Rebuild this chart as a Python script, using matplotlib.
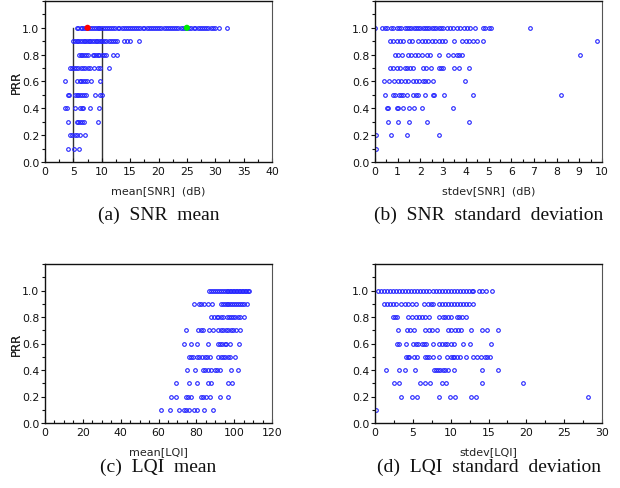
import matplotlib
matplotlib.use("Agg")
import matplotlib.pyplot as plt
from matplotlib.ticker import FixedLocator, MultipleLocator

# ---------------- data ----------------
prr_levels = [1.0, 0.9, 0.8, 0.7, 0.6, 0.5, 0.4, 0.3, 0.2, 0.1]

snr_mean = {
    1.0: [5.6, 5.9, 6.3, 6.6, 6.9, 7.2, 7.6, 7.9, 8.2, 8.6, 8.9, 9.3, 9.6, 9.9, 10.3, 10.6,
          11.0, 11.3, 11.7, 12.0, 12.4, 12.8, 13.1, 13.5, 13.9, 14.2, 14.6, 15.0, 15.3, 15.7,
          16.1, 16.4, 16.8, 17.2, 17.5, 17.9, 18.3, 18.7, 19.0, 19.4, 19.8, 20.1, 20.5, 20.9,
          21.3, 21.6, 22.0, 22.4, 22.8, 23.1, 23.5, 23.9, 24.3, 24.6, 25.0, 25.4, 25.8, 26.2,
          26.5, 26.9, 27.3, 27.7, 28.0, 28.4, 28.8, 29.2, 29.6, 30.0, 30.6, 32.0],
    0.9: [4.9, 5.3, 5.6, 5.9, 6.2, 6.5, 6.8, 7.1, 7.4, 7.7, 8.0, 8.3, 8.6, 8.9, 9.2, 9.5, 9.8,
          10.1, 10.4, 10.8, 11.2, 11.6, 11.9, 12.3, 12.6, 14.0, 14.5, 15.0, 16.5],
    0.8: [6.0, 6.3, 6.6, 6.9, 7.3, 7.6, 8.4, 8.7, 9.0, 9.3, 9.6, 10.0, 10.4, 10.8, 12.0, 12.7],
    0.7: [4.4, 4.8, 5.1, 5.5, 5.9, 6.3, 6.7, 7.1, 7.5, 7.9, 8.7, 9.3, 9.7, 11.3],
    0.6: [3.5, 5.7, 6.1, 6.4, 6.7, 7.0, 7.4, 8.1, 9.7],
    0.5: [4.0, 4.3, 5.3, 5.6, 5.9, 6.2, 6.6, 6.9, 7.2, 8.8, 9.7, 10.1],
    0.4: [3.5, 3.8, 5.3, 6.2, 6.5, 6.7, 8.0, 9.6],
    0.3: [4.1, 5.6, 5.9, 6.2, 6.6, 6.9, 9.4],
    0.2: [4.4, 4.7, 5.3, 5.6, 6.1, 7.0],
    0.1: [4.1, 5.1, 6.0],
}

snr_std = {
    1.0: [0.0, 0.3, 0.45, 0.55, 0.7, 0.8, 0.95, 1.05, 1.15, 1.3, 1.4, 1.5, 1.6, 1.7, 1.8, 1.9,
          2.0, 2.1, 2.2, 2.3, 2.4, 2.5, 2.6, 2.7, 2.8, 2.9, 3.0, 3.15, 3.3, 3.45, 3.6, 3.75,
          3.9, 4.05, 4.2, 4.4, 4.75, 4.85, 5.0, 5.1, 6.85],
    0.9: [0.65, 0.8, 0.95, 1.1, 1.25, 1.5, 1.62, 1.9, 2.05, 2.2, 2.35, 2.5, 2.65, 2.8, 2.95,
          3.1, 3.5, 3.85, 4.0, 4.15, 4.3, 4.48, 4.74, 9.8],
    0.8: [0.9, 1.0, 1.2, 1.47, 1.6, 1.75, 1.9, 2.05, 2.28, 2.42, 2.83, 3.2, 3.45, 3.6, 3.7,
          3.82, 9.05],
    0.7: [0.66, 0.8, 0.95, 1.1, 1.3, 1.4, 1.55, 1.69, 2.1, 2.25, 2.45, 2.8, 2.9, 3.0, 3.48,
          3.7, 4.15],
    0.6: [0.4, 0.63, 0.85, 1.0, 1.15, 1.3, 1.45, 1.66, 1.8, 1.95, 2.1, 2.2, 2.35, 2.55, 3.96],
    0.5: [0.44, 0.81, 0.9, 1.05, 1.15, 1.25, 1.4, 1.66, 1.81, 1.91, 2.2, 2.54, 2.6, 3.04,
          4.3, 8.2],
    0.4: [0.51, 0.59, 0.96, 1.03, 1.25, 1.51, 1.72, 2.06, 3.45],
    0.3: [0.59, 1.0, 1.51, 2.31, 4.16],
    0.2: [0.04, 0.7, 1.4, 2.82],
    0.1: [0.03],
}

lqi_mean = {
    1.0: [86.9, 88.0, 89.0, 90.0, 91.0, 92.0, 93.0, 94.0, 95.0, 96.0, 96.8, 97.6, 98.4, 99.2,
          100.0, 100.8, 101.6, 102.4, 103.2, 104.0, 104.8, 105.6, 106.4, 107.2, 108.0],
    0.9: [78.8, 81.4, 82.4, 84.0, 86.0, 88.5, 92.9, 94.0, 95.0, 96.0, 97.0, 98.0, 99.0, 100.0,
          101.0, 102.0, 103.0, 104.0, 105.0, 106.7],
    0.8: [87.6, 89.2, 90.8, 91.7, 93.0, 94.0, 96.1, 97.3, 98.5, 99.5, 100.6, 101.8, 103.0, 105.0],
    0.7: [74.3, 81.1, 82.4, 83.7, 86.9, 89.0, 91.7, 93.0, 94.2, 95.5, 97.0, 98.3, 99.6, 101.0,
          103.2],
    0.6: [73.6, 77.0, 80.2, 86.4, 91.2, 92.5, 93.8, 95.0, 95.8, 97.9, 102.3],
    0.5: [76.3, 77.3, 78.4, 80.2, 81.5, 82.8, 84.6, 85.9, 87.3, 91.7, 92.9, 94.1, 95.3, 96.6,
          97.9, 100.5],
    0.4: [75.2, 79.3, 83.7, 84.8, 86.0, 87.6, 89.9, 90.8, 92.6, 98.4, 101.8],
    0.3: [69.0, 76.3, 80.5, 86.4, 87.6, 96.5, 98.8],
    0.2: [66.5, 69.0, 74.3, 75.6, 77.0, 82.3, 83.6, 85.0, 87.3, 92.6, 96.5],
    0.1: [61.1, 66.0, 71.0, 73.6, 74.8, 76.3, 78.8, 80.2, 84.1, 89.0],
}

lqi_std = {
    1.0: [0.44, 0.8, 1.2, 1.6, 2.0, 2.4, 2.8, 3.2, 3.6, 4.0, 4.4, 4.8, 5.2, 5.6, 6.0, 6.4, 6.8,
          7.2, 7.6, 8.0, 8.4, 8.8, 9.2, 9.6, 10.0, 10.4, 10.8, 11.2, 11.6, 12.0, 12.4, 12.8,
          13.0, 13.7, 14.1, 14.7, 15.4],
    0.9: [1.19, 1.6, 2.0, 2.4, 2.8, 3.4, 3.9, 4.3, 4.9, 5.4, 6.5, 7.0, 7.4, 7.7, 8.5, 8.9,
          9.3, 9.7, 10.1, 10.4, 10.8, 11.2, 11.6, 12.0, 12.4, 13.0],
    0.8: [2.34, 2.65, 2.96, 4.4, 4.9, 5.4, 5.8, 6.2, 6.6, 7.2, 8.4, 9.0, 9.3, 9.6, 10.0, 10.8,
          11.1, 11.5, 12.0],
    0.7: [3.1, 4.2, 4.6, 5.1, 6.6, 7.1, 7.5, 8.25, 9.7, 10.1, 10.6, 11.0, 11.3, 12.7, 14.2,
          14.8, 16.2],
    0.6: [2.96, 3.2, 4.06, 5.0, 5.4, 5.7, 6.2, 6.5, 6.8, 7.7, 8.4, 8.9, 9.3, 9.5, 10.1, 10.45,
          11.6, 12.6, 15.35],
    0.5: [4.1, 4.3, 4.5, 5.1, 5.6, 6.6, 6.85, 7.1, 7.6, 8.4, 9.5, 10.0, 10.3, 10.5, 10.8,
          11.25, 12.0, 13.0, 13.5, 14.0, 14.5, 14.8, 15.2],
    0.4: [1.46, 3.2, 3.9, 5.3, 7.8, 8.1, 8.3, 8.6, 9.0, 9.3, 9.7, 10.5, 14.1, 16.2],
    0.3: [2.5, 3.2, 6.0, 6.6, 7.3, 8.8, 9.4, 14.1, 19.6],
    0.2: [3.5, 4.85, 5.6, 8.5, 9.9, 10.6, 12.7, 13.4, 28.1],
    0.1: [0.1],
}

highlight_x = [7.5, 25.0]
highlight_y = [1.0, 1.0]
highlight_colors = ["#ff0000", "#00ee00"]
threshold_x = [5, 10]

y_major = [0.0, 0.2, 0.4, 0.6, 0.8, 1.0]
y_minor = [0.1, 0.3, 0.5, 0.7, 0.9, 1.1, 1.2]

panels = [
    dict(data=snr_mean, xlim=(0, 40), major=5, minor=2.5, xlabel="mean[SNR]  (dB)",
         caption="(a)  SNR  mean"),
    dict(data=snr_std, xlim=(0, 10), major=1, minor=0.5, xlabel="stdev[SNR]  (dB)",
         caption="(b)  SNR  standard  deviation"),
    dict(data=lqi_mean, xlim=(0, 120), major=20, minor=5, xlabel="mean[LQI]",
         caption="(c)  LQI  mean"),
    dict(data=lqi_std, xlim=(0, 30), major=5, minor=2.5, xlabel="stdev[LQI]",
         caption="(d)  LQI  standard  deviation"),
]

# ---------------- figure ----------------
W, H = 620, 489
fig = plt.figure(figsize=(W / 100, H / 100), dpi=100)
plt.rcParams['font.family'] = ['DejaVu Sans']

# axes boxes in pixels: (left, top, right, bottom)
boxes = [(45, 2, 272, 163), (375, 2, 602, 163), (45, 265, 272, 424), (375, 265, 602, 424)]
caption_y = [215, 215, 467, 467]

blue = "#2424ff"
for i, (p, b) in enumerate(zip(panels, boxes)):
    l, t, r, bt = b
    ax = fig.add_axes([l / W, 1 - bt / H, (r - l) / W, (bt - t) / H])
    xs, ys = [], []
    for lvl in prr_levels:
        xs += p["data"][lvl]
        ys += [lvl] * len(p["data"][lvl])
    if i == 0:
        for tx in threshold_x:
            ax.plot([tx, tx], [0, 1.0], color="#333333", lw=1.0, zorder=1)
    ax.plot(xs, ys, linestyle="none", marker="o", ms=2.6, mfc="none", mec=blue, mew=0.8,
            zorder=2)
    if i == 0:
        ax.scatter(highlight_x, highlight_y, s=20, c=highlight_colors, zorder=3,
                   linewidths=0)
    ax.set_xlim(*p["xlim"])
    ax.set_ylim(0, 1.2)
    ax.xaxis.set_major_locator(MultipleLocator(p["major"]))
    ax.xaxis.set_minor_locator(MultipleLocator(p["minor"]))
    ax.yaxis.set_major_locator(FixedLocator(y_major))
    ax.yaxis.set_minor_locator(FixedLocator(y_minor))
    ax.set_yticklabels([f"{v:.1f}" for v in y_major])
    ax.tick_params(axis="x", which="both", direction="in", top=False, labelsize=7.8, pad=3,
                   width=0.8, colors="#111111")
    ax.tick_params(axis="x", which="major", length=3)
    ax.tick_params(axis="x", which="minor", length=2)
    ax.tick_params(axis="y", which="both", direction="out", right=False, labelsize=7.8,
                   pad=1.0, width=0.8, colors="#111111")
    ax.tick_params(axis="y", which="major", length=3)
    ax.tick_params(axis="y", which="minor", length=2)
    for s in ["left", "bottom", "top"]:
        ax.spines[s].set_linewidth(1.0)
        ax.spines[s].set_color("#111111")
    ax.spines["right"].set_linewidth(0.8)
    ax.spines["right"].set_color("#555555")
    hpx = bt - t
    ax.set_xlabel(p["xlabel"], fontsize=8, color="#222222", va="center")
    ax.xaxis.set_label_coords(0.5, -27.7 / hpx)
    ax.set_ylabel("PRR", fontsize=8.3, color="#222222", va="center")
    ax.yaxis.set_label_coords(-(l - 16) / (r - l), 0.5)
    fig.text((l + r) / 2 / W, 1 - caption_y[i] / H, p["caption"], ha="center", va="center",
             fontsize=14, family="Liberation Serif", color="#111111")

fig.savefig("out.png", dpi=100)
